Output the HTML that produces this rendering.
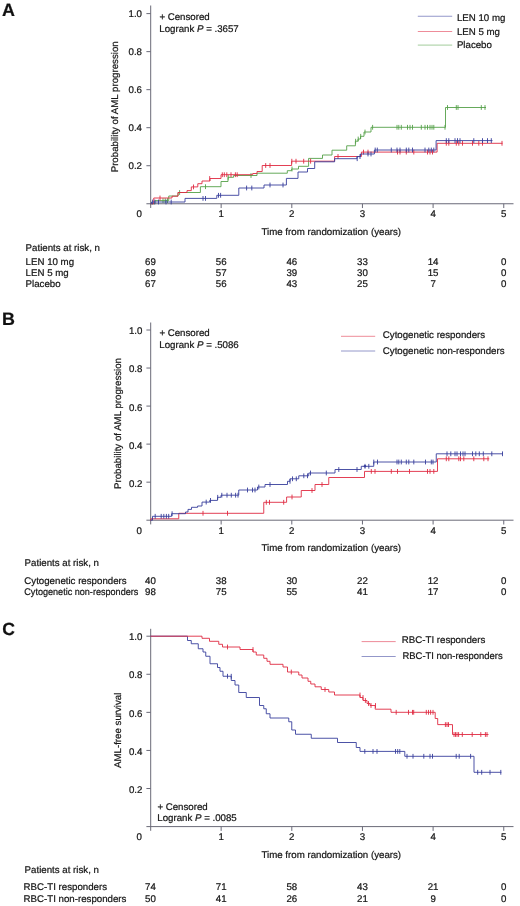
<!DOCTYPE html>
<html><head><meta charset="utf-8"><title>Figure</title>
<style>
html,body{margin:0;padding:0;background:#fff;}
svg{display:block;filter:blur(0.35px);}
text{font-family:"Liberation Sans",sans-serif;font-size:9.7px;fill:#161616;stroke:#161616;stroke-width:0.22px;text-rendering:geometricPrecision;}
</style></head><body>
<svg width="520" height="906" viewBox="0 0 520 906">
<rect width="520" height="906" fill="#ffffff"/>
<path d="M150.7,5.5V207.95" stroke="#6a6a78" stroke-width="1" fill="none"/>
<path d="M146.39999999999998,203.75H513.5" stroke="#6a6a78" stroke-width="1" fill="none"/>
<text x="142.0" y="169.17" text-anchor="end" >0.2</text>
<text x="142.0" y="131.14" text-anchor="end" >0.4</text>
<text x="142.0" y="93.11" text-anchor="end" >0.6</text>
<text x="142.0" y="55.08" text-anchor="end" >0.8</text>
<text x="142.0" y="17.05" text-anchor="end" >1.0</text>
<path d="M146.39999999999998,165.72H150.7M146.39999999999998,127.69H150.7M146.39999999999998,89.66H150.7M146.39999999999998,51.63H150.7M146.39999999999998,13.60H150.7M221.15,203.75v4.3M291.80,203.75v4.3M362.45,203.75v4.3M433.10,203.75v4.3M503.75,203.75v4.3" stroke="#6a6a78" stroke-width="1" fill="none"/>
<text x="139.2" y="217.45" text-anchor="middle" >0</text>
<text x="221.15" y="217.45" text-anchor="middle" >1</text>
<text x="291.80" y="217.45" text-anchor="middle" >2</text>
<text x="362.45" y="217.45" text-anchor="middle" >3</text>
<text x="433.10" y="217.45" text-anchor="middle" >4</text>
<text x="503.75" y="217.45" text-anchor="middle" >5</text>
<text x="331.3" y="234.75" text-anchor="middle" >Time from randomization (years)</text>
<text transform="translate(118.3,106.8) rotate(-90)" text-anchor="middle">Probability of AML progression</text>
<text x="2.0" y="15.5" style="font-size:17.9px;font-weight:bold;fill:#111">A</text>
<text x="159.4" y="20" text-anchor="start" >+ Censored</text>
<text x="159.3" y="31.7" text-anchor="start" >Logrank <tspan font-style="italic">P</tspan> = .3657</text>
<path d="M417.8,16.25H452.2" stroke="#383e9c" stroke-width="0.9" opacity="0.6"/>
<text x="456.9" y="20.5" text-anchor="start" >LEN 10 mg</text>
<path d="M417.8,31.5H452.2" stroke="#e02a42" stroke-width="0.9" opacity="0.6"/>
<text x="456.9" y="34.7" text-anchor="start" >LEN 5 mg</text>
<path d="M417.8,45.1H452.2" stroke="#55a048" stroke-width="0.9" opacity="0.6"/>
<text x="456.9" y="47.9" text-anchor="start" >Placebo</text>
<path d="M150.50,203.75H155.00V200.60H168.75V196.00H178.00V192.50H200.40V186.70H221.00V181.50H228.00V177.30H233.60V175.50H257.00V173.20H287.30V170.70H291.60V169.00H298.50V166.30H308.60V158.40H322.50V155.00H332.00V150.20H346.70V145.80H355.40V141.20H358.00V139.00H360.50V136.30H364.00V132.00H371.00V127.30H445.50V107.50H486.00" fill="none" stroke="#55a048" stroke-width="0.9"/><path d="M163.00,198.20v4.80M165.20,198.20v4.80M167.50,198.20v4.80M179.60,190.10v4.80M205.50,184.30v4.80M228.20,174.90v4.80M251.00,173.10v4.80M292.00,166.60v4.80M355.60,138.80v4.80M358.20,136.60v4.80M360.70,133.90v4.80M365.00,129.60v4.80M372.60,124.90v4.80M397.00,124.90v4.80M398.80,124.90v4.80M401.30,124.90v4.80M407.50,124.90v4.80M410.00,124.90v4.80M412.50,124.90v4.80M421.30,124.90v4.80M425.00,124.90v4.80M427.50,124.90v4.80M430.00,124.90v4.80M432.00,124.90v4.80M433.80,124.90v4.80M445.00,124.90v4.80M447.50,105.10v4.80M456.30,105.10v4.80M458.00,105.10v4.80M481.30,105.10v4.80M485.00,105.10v4.80" fill="none" stroke="#55a048" stroke-width="0.9"/>
<path d="M150.50,203.75H153.75V198.00H172.00V196.20H178.00V192.50H187.00V190.60H191.30V186.90H197.80V183.70H202.00V181.00H210.00V178.50H221.00V174.70H252.70V173.50H257.00V171.50H262.20V165.50H291.60V161.20H334.60V156.50H361.40V152.10H437.10V143.30H502.50" fill="none" stroke="#e02a42" stroke-width="0.9"/><path d="M160.00,195.60v4.80M193.50,184.50v4.80M209.70,176.10v4.80M222.30,172.30v4.80M224.30,172.30v4.80M226.80,172.30v4.80M231.00,172.30v4.80M235.40,172.30v4.80M237.20,172.30v4.80M265.70,163.10v4.80M270.00,163.10v4.80M291.80,158.80v4.80M296.00,158.80v4.80M303.70,158.80v4.80M310.60,158.80v4.80M338.00,154.10v4.80M363.50,149.70v4.80M368.00,149.70v4.80M397.50,149.70v4.80M400.00,149.70v4.80M406.30,149.70v4.80M413.80,149.70v4.80M427.50,149.70v4.80M430.00,149.70v4.80M432.50,149.70v4.80M446.30,140.90v4.80M448.80,140.90v4.80M456.30,140.90v4.80M458.80,140.90v4.80M462.50,140.90v4.80M472.50,140.90v4.80M478.80,140.90v4.80M482.50,140.90v4.80M502.00,140.90v4.80" fill="none" stroke="#e02a42" stroke-width="0.9"/>
<path d="M150.50,203.75H151.50V202.00H185.00V198.40H216.80V195.30H238.80V188.00H264.00V185.00H286.40V178.40H298.00V172.00H307.50V168.50H314.70V161.80H334.60V158.70H357.00V156.60H360.50V154.00H374.40V150.00H436.10V140.60H492.50" fill="none" stroke="#383e9c" stroke-width="0.9"/><path d="M152.60,199.60v4.80M154.80,199.60v4.80M158.50,199.60v4.80M166.00,199.60v4.80M171.20,199.60v4.80M203.00,196.00v4.80M205.50,196.00v4.80M218.50,192.90v4.80M220.60,192.90v4.80M246.60,185.60v4.80M251.80,185.60v4.80M270.00,182.60v4.80M283.00,182.60v4.80M357.20,156.30v4.80M360.00,154.20v4.80M368.00,151.60v4.80M371.00,151.60v4.80M375.20,147.60v4.80M377.30,147.60v4.80M391.30,147.60v4.80M397.00,147.60v4.80M400.00,147.60v4.80M406.30,147.60v4.80M408.80,147.60v4.80M412.50,147.60v4.80M425.00,147.60v4.80M428.80,147.60v4.80M431.30,147.60v4.80M433.80,147.60v4.80M446.30,138.20v4.80M448.80,138.20v4.80M455.00,138.20v4.80M457.50,138.20v4.80M460.00,138.20v4.80M473.80,138.20v4.80M482.50,138.20v4.80M487.50,138.20v4.80M491.30,138.20v4.80" fill="none" stroke="#383e9c" stroke-width="0.9"/>
<text x="25.6" y="250.5" text-anchor="start" >Patients at risk, n</text>
<text x="25.6" y="264.6" text-anchor="start" >LEN 10 mg</text>
<text x="150.50" y="264.6" text-anchor="middle" >69</text>
<text x="221.15" y="264.6" text-anchor="middle" >56</text>
<text x="291.80" y="264.6" text-anchor="middle" >46</text>
<text x="362.45" y="264.6" text-anchor="middle" >33</text>
<text x="433.10" y="264.6" text-anchor="middle" >14</text>
<text x="503.75" y="264.6" text-anchor="middle" >0</text>
<text x="25.6" y="276.1" text-anchor="start" >LEN 5 mg</text>
<text x="150.50" y="276.1" text-anchor="middle" >69</text>
<text x="221.15" y="276.1" text-anchor="middle" >57</text>
<text x="291.80" y="276.1" text-anchor="middle" >39</text>
<text x="362.45" y="276.1" text-anchor="middle" >30</text>
<text x="433.10" y="276.1" text-anchor="middle" >15</text>
<text x="503.75" y="276.1" text-anchor="middle" >0</text>
<text x="25.6" y="287.2" text-anchor="start" >Placebo</text>
<text x="150.50" y="287.2" text-anchor="middle" >67</text>
<text x="221.15" y="287.2" text-anchor="middle" >56</text>
<text x="291.80" y="287.2" text-anchor="middle" >43</text>
<text x="362.45" y="287.2" text-anchor="middle" >25</text>
<text x="433.10" y="287.2" text-anchor="middle" >7</text>
<text x="503.75" y="287.2" text-anchor="middle" >0</text>
<path d="M150.7,322.5V524.4000000000001" stroke="#6a6a78" stroke-width="1" fill="none"/>
<path d="M146.39999999999998,520.2H513.5" stroke="#6a6a78" stroke-width="1" fill="none"/>
<text x="142.4" y="486.61" text-anchor="end" >0.2</text>
<text x="142.4" y="448.57" text-anchor="end" >0.4</text>
<text x="142.4" y="410.53" text-anchor="end" >0.6</text>
<text x="142.4" y="372.49" text-anchor="end" >0.8</text>
<text x="142.4" y="334.45" text-anchor="end" >1.0</text>
<path d="M146.39999999999998,482.16H150.7M146.39999999999998,444.12H150.7M146.39999999999998,406.08H150.7M146.39999999999998,368.04H150.7M146.39999999999998,330.00H150.7M221.15,520.2v4.3M291.80,520.2v4.3M362.45,520.2v4.3M433.10,520.2v4.3M503.75,520.2v4.3" stroke="#6a6a78" stroke-width="1" fill="none"/>
<text x="139.2" y="533.90" text-anchor="middle" >0</text>
<text x="221.15" y="533.90" text-anchor="middle" >1</text>
<text x="291.80" y="533.90" text-anchor="middle" >2</text>
<text x="362.45" y="533.90" text-anchor="middle" >3</text>
<text x="433.10" y="533.90" text-anchor="middle" >4</text>
<text x="503.75" y="533.90" text-anchor="middle" >5</text>
<text x="331.3" y="551.20" text-anchor="middle" >Time from randomization (years)</text>
<text transform="translate(120.7,423.5) rotate(-90)" text-anchor="middle">Probability of AML progression</text>
<text x="2.0" y="325.2" style="font-size:17.9px;font-weight:bold;fill:#111">B</text>
<text x="159.4" y="336.3" text-anchor="start" >+ Censored</text>
<text x="159.3" y="347.9" text-anchor="start" >Logrank <tspan font-style="italic">P</tspan> = .5086</text>
<path d="M341,336.3H375.2" stroke="#e02a42" stroke-width="0.9" opacity="0.6"/>
<text x="382.8" y="338.0" text-anchor="start" >Cytogenetic responders</text>
<path d="M341,351.0H375.2" stroke="#383e9c" stroke-width="0.9" opacity="0.6"/>
<text x="382.8" y="353.5" text-anchor="start" >Cytogenetic non-responders</text>
<path d="M150.50,520.20H151.00V518.80H178.75V513.30H263.75V502.30H286.60V497.00H301.25V490.50H315.00V484.50H328.75V477.50H364.50V471.40H437.50V458.80H489.30" fill="none" stroke="#e02a42" stroke-width="0.9"/><path d="M203.00,510.90v4.80M227.50,510.90v4.80M266.30,499.90v4.80M269.50,499.90v4.80M283.70,499.90v4.80M292.00,494.60v4.80M312.00,488.10v4.80M322.00,482.10v4.80M371.30,469.00v4.80M375.00,469.00v4.80M391.30,469.00v4.80M397.50,469.00v4.80M409.50,469.00v4.80M427.50,469.00v4.80M430.00,469.00v4.80M433.80,469.00v4.80M446.30,456.40v4.80M448.80,456.40v4.80M458.80,456.40v4.80M460.50,456.40v4.80M463.80,456.40v4.80M473.80,456.40v4.80M483.80,456.40v4.80M488.00,456.40v4.80" fill="none" stroke="#e02a42" stroke-width="0.9"/>
<path d="M150.50,520.20H152.50V516.30H171.60V513.70H185.50V512.00H188.00V509.40H191.50V507.30H197.60V506.00H202.00V502.10H209.70V500.40H217.50V497.30H221.00V495.20H238.75V490.00H257.50V487.00H265.00V484.50H287.50V481.30H290.00V478.80H298.75V475.80H308.75V473.00H335.00V469.50H361.25V466.30H373.75V462.00H436.25V453.80H503.00" fill="none" stroke="#383e9c" stroke-width="0.9"/><path d="M155.20,513.90v4.80M161.20,513.90v4.80M163.80,513.90v4.80M166.40,513.90v4.80M168.70,513.90v4.80M172.10,511.30v4.80M206.20,499.70v4.80M210.50,498.00v4.80M217.70,494.90v4.80M221.80,492.80v4.80M227.00,492.80v4.80M231.30,492.80v4.80M235.60,492.80v4.80M238.00,492.80v4.80M247.50,487.60v4.80M252.50,487.60v4.80M255.00,487.60v4.80M258.80,484.60v4.80M270.00,482.10v4.80M290.00,478.90v4.80M292.50,476.40v4.80M296.30,476.40v4.80M303.80,473.40v4.80M307.50,473.40v4.80M310.50,470.60v4.80M326.30,470.60v4.80M338.80,467.10v4.80M357.00,467.10v4.80M365.00,463.90v4.80M368.80,463.90v4.80M373.75,459.60v4.80M377.50,459.60v4.80M397.00,459.60v4.80M398.80,459.60v4.80M401.30,459.60v4.80M406.30,459.60v4.80M408.80,459.60v4.80M413.80,459.60v4.80M425.50,459.60v4.80M431.30,459.60v4.80M433.00,459.60v4.80M447.00,451.40v4.80M450.80,451.40v4.80M455.00,451.40v4.80M457.00,451.40v4.80M460.50,451.40v4.80M463.00,451.40v4.80M465.00,451.40v4.80M472.50,451.40v4.80M475.80,451.40v4.80M479.30,451.40v4.80M483.30,451.40v4.80M491.80,451.40v4.80M502.50,451.40v4.80" fill="none" stroke="#383e9c" stroke-width="0.9"/>
<circle cx="365" cy="466.3" r="1.3" fill="#383e9c"/>
<text x="24.6" y="566" text-anchor="start" >Patients at risk, n</text>
<text x="24.3" y="583.5" text-anchor="start" >Cytogenetic responders</text>
<text x="24.3" y="595.2" text-anchor="start" textLength="114" lengthAdjust="spacingAndGlyphs">Cytogenetic non-responders</text>
<text x="150.50" y="583.7" text-anchor="middle" >40</text>
<text x="221.15" y="583.7" text-anchor="middle" >38</text>
<text x="291.80" y="583.7" text-anchor="middle" >30</text>
<text x="362.45" y="583.7" text-anchor="middle" >22</text>
<text x="433.10" y="583.7" text-anchor="middle" >12</text>
<text x="503.75" y="583.7" text-anchor="middle" >0</text>
<text x="150.50" y="595.4" text-anchor="middle" >98</text>
<text x="221.15" y="595.4" text-anchor="middle" >75</text>
<text x="291.80" y="595.4" text-anchor="middle" >55</text>
<text x="362.45" y="595.4" text-anchor="middle" >41</text>
<text x="433.10" y="595.4" text-anchor="middle" >17</text>
<text x="503.75" y="595.4" text-anchor="middle" >0</text>
<path d="M150.7,628.8V830.8000000000001" stroke="#6a6a78" stroke-width="1" fill="none"/>
<path d="M146.39999999999998,826.6H513.5" stroke="#6a6a78" stroke-width="1" fill="none"/>
<text x="142.4" y="792.67" text-anchor="end" >0.2</text>
<text x="142.4" y="754.59" text-anchor="end" >0.4</text>
<text x="142.4" y="716.51" text-anchor="end" >0.6</text>
<text x="142.4" y="678.43" text-anchor="end" >0.8</text>
<text x="142.4" y="640.35" text-anchor="end" >1.0</text>
<path d="M146.39999999999998,788.52H150.7M146.39999999999998,750.44H150.7M146.39999999999998,712.36H150.7M146.39999999999998,674.28H150.7M146.39999999999998,636.20H150.7M221.15,826.6v4.3M291.80,826.6v4.3M362.45,826.6v4.3M433.10,826.6v4.3M503.75,826.6v4.3" stroke="#6a6a78" stroke-width="1" fill="none"/>
<text x="139.2" y="840.30" text-anchor="middle" >0</text>
<text x="221.15" y="840.30" text-anchor="middle" >1</text>
<text x="291.80" y="840.30" text-anchor="middle" >2</text>
<text x="362.45" y="840.30" text-anchor="middle" >3</text>
<text x="433.10" y="840.30" text-anchor="middle" >4</text>
<text x="503.75" y="840.30" text-anchor="middle" >5</text>
<text x="331.3" y="857.60" text-anchor="middle" >Time from randomization (years)</text>
<text transform="translate(120.7,730.3) rotate(-90)" text-anchor="middle">AML-free survival</text>
<text x="2.3" y="635.3" style="font-size:17.6px;font-weight:bold;fill:#111">C</text>
<text x="157.4" y="809.8" text-anchor="start" >+ Censored</text>
<text x="157.3" y="820.9" text-anchor="start" >Logrank <tspan font-style="italic">P</tspan> = .0085</text>
<path d="M361.6,641.6H395.7" stroke="#e02a42" stroke-width="0.9" opacity="0.6"/>
<text x="401.8" y="643.3" text-anchor="start" >RBC-TI responders</text>
<path d="M361.6,656.5H395.7" stroke="#383e9c" stroke-width="0.9" opacity="0.6"/>
<text x="402.5" y="658.9" text-anchor="start" textLength="100.2" lengthAdjust="spacingAndGlyphs">RBC-TI non-responders</text>
<path d="M150.50,636.20H187.50V640.50H191.25V643.75H198.25V648.75H203.00V652.00H205.75V656.25H210.00V663.75H217.50V667.50H220.00V671.25H223.00V676.25H231.25V680.50H235.00V685.00H238.75V692.50H246.25V697.50H259.50V705.50H263.75V708.75H266.25V713.75H270.00V718.00H288.75V721.75H291.75V730.00H295.50V734.25H311.25V738.25H337.50V742.50H356.25V747.50H360.00V751.40H404.80V756.30H474.00V772.30H501.40" fill="none" stroke="#383e9c" stroke-width="0.9"/><path d="M227.50,673.85v4.80M231.25,673.85v4.80M364.80,749.00v4.80M373.00,749.00v4.80M377.00,749.00v4.80M395.50,749.00v4.80M397.70,749.00v4.80M399.80,749.00v4.80M407.00,753.90v4.80M413.00,753.90v4.80M423.80,753.90v4.80M430.00,753.90v4.80M432.50,753.90v4.80M456.20,753.90v4.80M459.20,753.90v4.80M470.60,753.90v4.80M477.70,769.90v4.80M481.70,769.90v4.80M490.00,769.90v4.80M500.80,769.90v4.80" fill="none" stroke="#383e9c" stroke-width="0.9"/>
<path d="M150.50,636.20H202.00V638.30H209.50V641.30H218.75V644.30H222.50V647.00H240.00V649.50H253.00V652.00H256.25V655.00H263.75V658.30H267.00V661.30H270.00V664.30H283.00V667.00H287.50V672.00H298.75V675.00H302.00V678.00H308.00V681.30H310.75V684.00H315.00V686.80H321.25V689.50H328.75V692.00H334.50V695.00H360.00V697.50H363.00V700.50H367.00V703.50H370.00V705.50H375.20V709.20H391.00V712.30H435.20V718.50H437.70V724.60H452.50V734.50H488.50" fill="none" stroke="#e02a42" stroke-width="0.9"/><path d="M227.50,644.60v4.80M253.00,647.10v4.80M291.30,669.60v4.80M325.00,687.10v4.80M360.00,692.60v4.80M363.00,695.10v4.80M365.40,698.10v4.80M368.50,701.10v4.80M371.00,703.10v4.80M375.50,703.10v4.80M396.20,709.90v4.80M408.50,709.90v4.80M412.50,709.90v4.80M413.70,709.90v4.80M426.30,709.90v4.80M428.50,709.90v4.80M430.60,709.90v4.80M433.00,709.90v4.80M445.40,722.20v4.80M447.00,722.20v4.80M448.50,722.20v4.80M454.00,732.10v4.80M455.50,732.10v4.80M457.00,732.10v4.80M458.60,732.10v4.80M462.30,732.10v4.80M472.20,732.10v4.80M480.80,732.10v4.80M485.40,732.10v4.80M487.00,732.10v4.80" fill="none" stroke="#e02a42" stroke-width="0.9"/>
<text x="24.6" y="873.3" text-anchor="start" >Patients at risk, n</text>
<text x="23.6" y="890.3" text-anchor="start" >RBC-TI responders</text>
<text x="150.50" y="890.3" text-anchor="middle" >74</text>
<text x="221.15" y="890.3" text-anchor="middle" >71</text>
<text x="291.80" y="890.3" text-anchor="middle" >58</text>
<text x="362.45" y="890.3" text-anchor="middle" >43</text>
<text x="433.10" y="890.3" text-anchor="middle" >21</text>
<text x="503.75" y="890.3" text-anchor="middle" >0</text>
<text x="23.6" y="901.6" text-anchor="start" >RBC-TI non-responders</text>
<text x="150.50" y="901.6" text-anchor="middle" >50</text>
<text x="221.15" y="901.6" text-anchor="middle" >41</text>
<text x="291.80" y="901.6" text-anchor="middle" >26</text>
<text x="362.45" y="901.6" text-anchor="middle" >21</text>
<text x="433.10" y="901.6" text-anchor="middle" >9</text>
<text x="503.75" y="901.6" text-anchor="middle" >0</text>
</svg>
</body></html>
